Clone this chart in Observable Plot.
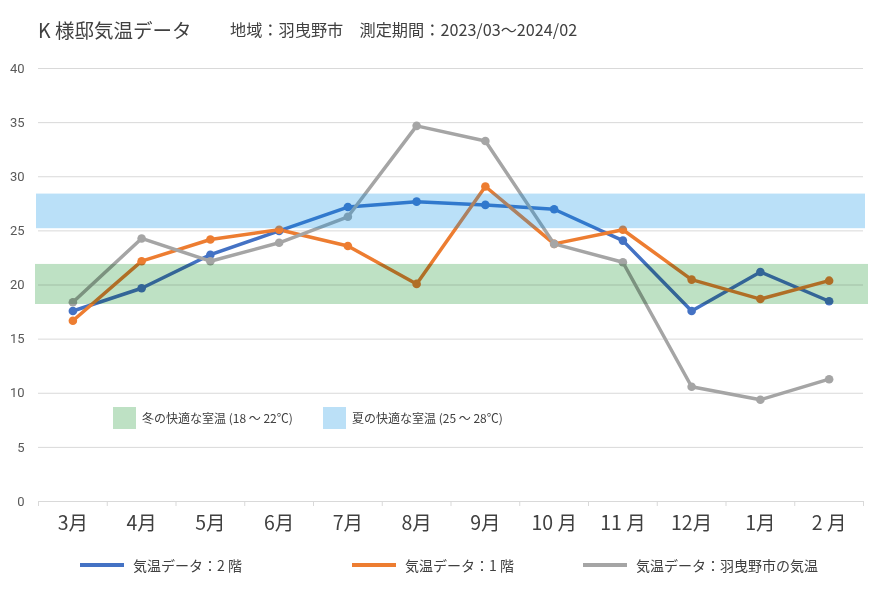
<!DOCTYPE html>
<html><head><meta charset="utf-8">
<script src="https://cdn.jsdelivr.net/npm/d3@7"></script>
<script src="https://cdn.jsdelivr.net/npm/@observablehq/plot@0.6"></script>
<style>
body{margin:0;background:#fff;font-family:"Noto Sans CJK JP","Noto Sans",sans-serif;color:#404040}
#wrap{position:relative;width:873px;height:602px;overflow:hidden;background:#fff}
.abs{position:absolute;white-space:nowrap;line-height:1}
#chart{position:absolute;left:0;top:50px}
.sw{position:absolute}
</style></head><body>
<div id="wrap">
  <div class="abs" id="title" style="left:38px;top:20px;font-size:19.5px;color:#404040">K 様邸気温データ</div>
  <div class="abs" id="sub" style="left:230px;top:21px;font-size:16.2px;color:#404040">地域：羽曳野市　測定期間：2023/03～2024/02</div>
  <div id="chart"></div>
  <div id="bandLegend"></div>
  <div id="legend"></div>
</div>
<script>
const months = ["3月","4月","5月","6月","7月","8月","9月","10 月","11 月","12月","1月","2 月"];
const floor2 = [17.6, 19.7, 22.8, 25.0, 27.2, 27.7, 27.4, 27.0, 24.1, 17.6, 21.2, 18.5];
const floor1 = [16.7, 22.2, 24.2, 25.1, 23.6, 20.1, 29.1, 23.8, 25.1, 20.5, 18.7, 20.4];
const city   = [18.4, 24.3, 22.2, 23.9, 26.3, 34.7, 33.3, 23.8, 22.1, 10.6, 9.4, 11.3];
const seriesNames = ["気温データ：2 階", "気温データ：1 階", "気温データ：羽曳野市の気温"];
const seriesColors = ["#4472C4", "#ED7D31", "#A5A5A5"];
const yTicks = [0, 5, 10, 15, 20, 25, 30, 35, 40];
const winterBand = [18.2, 21.9];
const summerBand = [25.2, 28.4];
const bandLabels = ["冬の快適な室温 (18 ～ 22℃)", "夏の快適な室温 (25 ～ 28℃)"];
const bandColors = ["#BEE1C4", "#BBE0F7"];

const seriesValues = [floor2, floor1, city];
const rows = [];
seriesValues.forEach((vals, s) => vals.forEach((v, i) => rows.push({series: seriesNames[s], month: months[i], value: v})));

const W = 873, H = 500, mL = 38, mR = 10, mT = 18, mB = 49;
const step = (W - mL - mR) / months.length;

const chart = Plot.plot({
  width: W, height: H, marginTop: mT, marginBottom: mB, marginLeft: mL, marginRight: mR,
  style: {fontFamily: '"Noto Sans CJK JP", "Noto Sans", sans-serif', background: "#fff"},
  x: {type: "point", domain: months, padding: 0.5, align: 0.5, round: false, insetLeft: 0, insetRight: 0},
  y: {domain: [0, 40], insetTop: 0, insetBottom: 0},
  color: {domain: seriesNames, range: seriesColors},
  marks: [
    Plot.ruleY(yTicks, {stroke: "#d9d9d9", strokeWidth: 1}),
    Plot.ruleX(months, {x: d => d, y1: 0, y2: 0, insetBottom: -5, dx: -step / 2, stroke: "#d9d9d9"}),
    Plot.ruleX([months[months.length - 1]], {x: d => d, y1: 0, y2: 0, insetBottom: -5, dx: step / 2, stroke: "#d9d9d9"}),
    Plot.axisY({ticks: yTicks, tickSize: 0, tickPadding: 14, fontSize: 13, color: "#595959", label: null, fontFamily: "Roboto, sans-serif"}),
    Plot.axisX({tickSize: 0, tickPadding: 15, fontSize: 19.5, color: "#404040", label: null}),
    Plot.line(rows, {x: "month", y: "value", z: "series", stroke: "series", strokeWidth: 3.5, strokeLinejoin: "round"}),
    Plot.dot(rows, {x: "month", y: "value", fill: "series", r: 4.3}),
    Plot.rect([winterBand], {y1: d => d[0], y2: d => d[1], fill: bandColors[0], insetLeft: -3, insetRight: -5, mixBlendMode: "multiply"}),
    Plot.rect([summerBand], {y1: d => d[0], y2: d => d[1], fill: "#008CE6", fillOpacity: 0.27, insetLeft: -2, insetRight: -2})
  ]
});
document.getElementById("chart").appendChild(chart);

// band legend inside plot area
const bl = document.getElementById("bandLegend");
const bandPos = [113, 323];
bandLabels.forEach((t, i) => {
  const sw = document.createElement("div");
  sw.className = "sw";
  sw.style.cssText = `left:${bandPos[i]}px;top:407px;width:23px;height:22px;background:${bandColors[i]}`;
  bl.appendChild(sw);
  const tx = document.createElement("div");
  tx.className = "abs";
  tx.style.cssText = `left:${bandPos[i] + 29}px;top:412px;font-size:12px;color:#404040`;
  tx.textContent = t;
  bl.appendChild(tx);
});

// series legend below
const lg = document.getElementById("legend");
const legPos = [80, 352, 583];
seriesNames.forEach((t, i) => {
  const sw = document.createElement("div");
  sw.className = "sw";
  sw.style.cssText = `left:${legPos[i]}px;top:563px;width:44px;height:4px;background:${seriesColors[i]}`;
  lg.appendChild(sw);
  const tx = document.createElement("div");
  tx.className = "abs";
  tx.style.cssText = `left:${legPos[i] + 53}px;top:558px;font-size:14px;color:#404040`;
  tx.textContent = t;
  lg.appendChild(tx);
});
</script>
</body></html>
